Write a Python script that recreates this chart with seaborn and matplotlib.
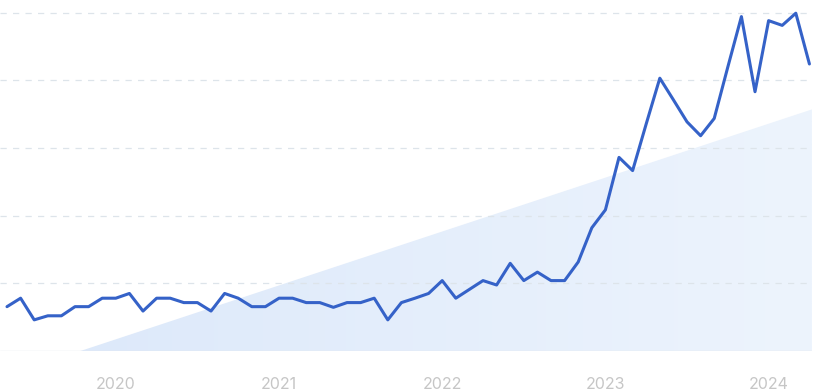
import numpy as np
import pandas as pd
import matplotlib
matplotlib.use("Agg")
import matplotlib.pyplot as plt
from matplotlib.patches import Polygon
from matplotlib.colors import LinearSegmentedColormap
import seaborn as sns

# Monthly interest values, May 2019 .. Apr 2024 (index 0..59)
values = [13.1, 15.6, 9.2, 10.4, 10.4, 13.1, 13.1, 15.6, 15.6, 17.0,
          11.8, 15.6, 15.6, 14.3, 14.3, 11.8, 17.0, 15.6, 13.1, 13.1,
          15.6, 15.6, 14.3, 14.3, 12.9, 14.3, 14.3, 15.6, 9.2, 14.3,
          15.6, 17.0, 20.8, 15.6, 18.2, 20.8, 19.5, 25.9, 20.8, 23.3,
          20.8, 20.8, 26.3, 36.4, 41.7, 57.2, 53.3, 67.1, 80.6, 74.2,
          67.7, 63.6, 68.7, 83.9, 98.8, 76.6, 97.6, 96.2, 99.8, 84.8]
months = list(range(len(values)))
year_ticks = [8, 20, 32, 44, 56]
year_labels = ["2020", "2021", "2022", "2023", "2024"]
trend_x = [5.4, 59.2]
trend_y = [0.0, 71.4]

df = pd.DataFrame({"month": months, "value": values})

sns.set_theme(style="white")
plt.rcParams["font.family"] = ["Inter", "DejaVu Sans"]

fig = plt.figure(figsize=(8.16, 3.91), dpi=100)
ax = fig.add_axes([0, 40 / 391, 812 / 816, 351 / 391])
ax.set_xlim(-0.515, 59.19)
ax.set_ylim(0, 103.7)

# gradient-filled trend triangle
poly = Polygon([(trend_x[0], trend_y[0]), (trend_x[1], trend_y[1]), (trend_x[1], 0)],
               closed=True, facecolor="none", edgecolor="none")
ax.add_patch(poly)
grad = np.linspace(0, 1, 256).reshape(1, -1)
cmap = LinearSegmentedColormap.from_list("g", ["#dde9fa", "#edf4fd"])
im = ax.imshow(grad, extent=[trend_x[0], trend_x[1], 0, trend_y[1]], aspect="auto",
               cmap=cmap, origin="lower", zorder=1)
im.set_clip_path(poly)

for g in [20, 40, 60, 80, 100]:
    ax.axhline(g, color="#dde4ea", lw=0.9, ls=(0, (5, 5)), zorder=2)
ax.axhline(0, color="#e3e7ec", lw=1.0, zorder=2)

sns.lineplot(data=df, x="month", y="value", ax=ax, color="#3562c8", lw=2.2, zorder=3)

ax.set_xticks(year_ticks)
ax.set_xticklabels(year_labels, color="#c6c6c6", fontsize=11.5)
ax.set_yticks([])
ax.tick_params(axis="x", length=0, pad=19)
ax.set_xlabel("")
ax.set_ylabel("")
for s in ax.spines.values():
    s.set_visible(False)

fig.savefig("out.png", dpi=100)
